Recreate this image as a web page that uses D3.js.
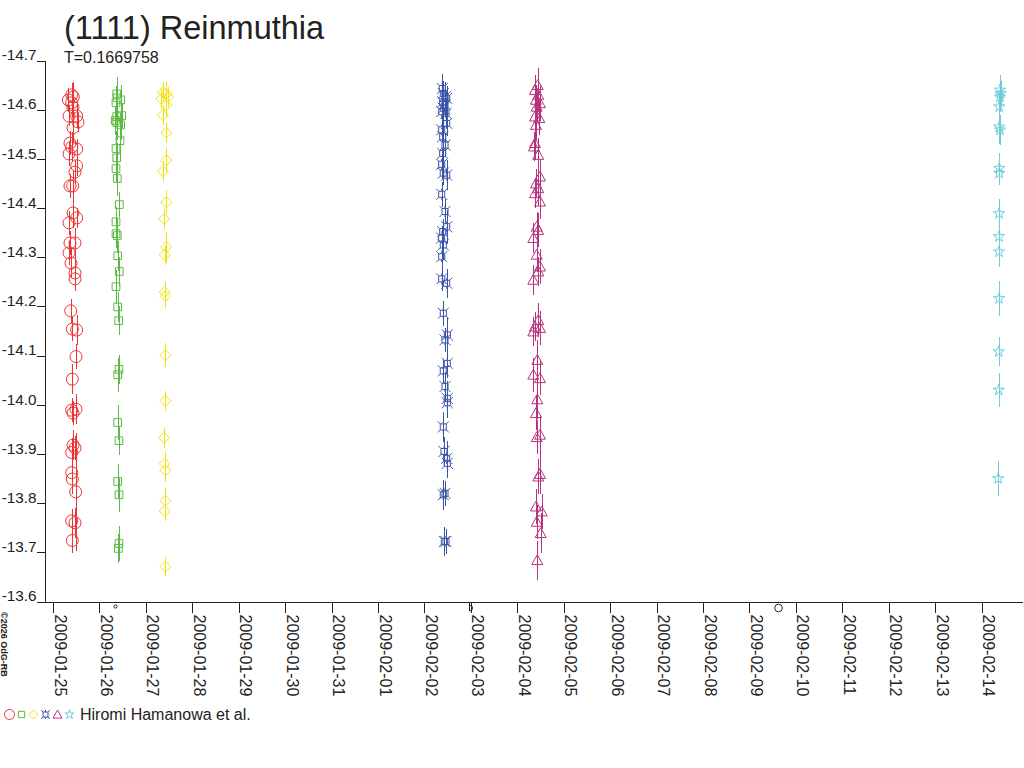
<!DOCTYPE html>
<html>
<head>
<meta charset="utf-8">
<script src="https://cdn.jsdelivr.net/npm/d3@7"></script>
<style>
  body { margin: 0; background: #fff; }
  svg { display: block; }
  text { font-family: "Liberation Sans", Arial, sans-serif; fill: #222; }
</style>
</head>
<body>
<svg id="chart" width="1024" height="768"></svg>
<script>
// chart texts
const titleText = '(1111) Reinmuthia';
const periodText = 'T=0.1669758';
const observerText = 'Hiromi Hamanowa et al.';
const creditText = '\u00a92026 OdG-RB';

// time axis: one tick per day, 2009-01-25 .. 2009-02-14 (UTC)
const firstDay = Date.UTC(2009, 0, 25);
const lastDay = Date.UTC(2009, 1, 14);
const DAY = 864e5;

// magnitude ticks (brighter at top)
const magTicks = [-14.7, -14.6, -14.5, -14.4, -14.3, -14.2, -14.1, -14.0, -13.9, -13.8, -13.7, -13.6];

// moon phases shown under the time axis
const moonPhases = [
  { when: Date.UTC(2009, 0, 26, 7, 55), phase: 'new' },
  { when: Date.UTC(2009, 1, 2, 23, 13), phase: 'first' },
  { when: Date.UTC(2009, 1, 9, 14, 49), phase: 'full' }
];

// observations: [days since 2009-01-25 0h UT, magnitude, error]
const night0125 = [
  [0.403,-14.630,0.025],[0.437,-14.626,0.030],[0.330,-14.620,0.025],[0.403,-14.614,0.030],
  [0.431,-14.605,0.025],[0.345,-14.587,0.020],[0.510,-14.587,0.025],[0.538,-14.575,0.020],
  [0.431,-14.563,0.030],[0.366,-14.532,0.025],[0.403,-14.524,0.030],[0.510,-14.520,0.020],
  [0.345,-14.510,0.025],[0.510,-14.486,0.020],[0.474,-14.473,0.025],[0.366,-14.445,0.025],
  [0.424,-14.445,0.030],[0.431,-14.390,0.030],[0.510,-14.380,0.020],[0.345,-14.370,0.025],
  [0.474,-14.329,0.030],[0.366,-14.329,0.025],[0.345,-14.309,0.025],[0.388,-14.288,0.030],
  [0.474,-14.268,0.030],[0.474,-14.256,0.025],[0.381,-14.191,0.025],[0.416,-14.154,0.025],
  [0.510,-14.152,0.030],[0.495,-14.098,0.025],[0.416,-14.052,0.030],[0.403,-13.989,0.025],
  [0.495,-13.991,0.030],[0.431,-13.983,0.025],[0.431,-13.918,0.030],[0.474,-13.912,0.025],
  [0.403,-13.903,0.030],[0.403,-13.862,0.025],[0.416,-13.849,0.030],[0.489,-13.823,0.120],
  [0.403,-13.764,0.025],[0.474,-13.760,0.030],[0.416,-13.724,0.025]
];
const night0126 = [
  [1.372,-14.632,0.035],[1.385,-14.624,0.030],[1.458,-14.620,0.030],[1.357,-14.614,0.035],
  [1.372,-14.586,0.030],[1.480,-14.588,0.025],[1.342,-14.578,0.030],[1.372,-14.574,0.035],
  [1.458,-14.569,0.030],[1.443,-14.537,0.030],[1.357,-14.521,0.035],[1.372,-14.502,0.030],
  [1.357,-14.480,0.030],[1.385,-14.460,0.035],[1.428,-14.407,0.025],[1.357,-14.372,0.030],
  [1.357,-14.348,0.030],[1.385,-14.344,0.035],[1.393,-14.303,0.030],[1.428,-14.271,0.030],
  [1.357,-14.240,0.035],[1.393,-14.199,0.030],[1.415,-14.171,0.030],[1.421,-14.072,0.030],
  [1.393,-14.061,0.035],[1.393,-13.964,0.035],[1.421,-13.927,0.030],[1.393,-13.844,0.035],
  [1.421,-13.817,0.035],[1.421,-13.718,0.035],[1.406,-13.708,0.030]
];
const night0127 = [
  [2.369,-14.636,0.020],[2.440,-14.632,0.025],[2.333,-14.622,0.020],[2.477,-14.626,0.020],
  [2.440,-14.609,0.025],[2.369,-14.589,0.020],[2.440,-14.553,0.020],[2.440,-14.497,0.025],
  [2.369,-14.475,0.020],[2.440,-14.412,0.025],[2.391,-14.378,0.020],[2.440,-14.321,0.030],
  [2.406,-14.305,0.020],[2.406,-14.229,0.020],[2.419,-14.221,0.025],[2.419,-14.101,0.025],
  [2.419,-14.008,0.020],[2.391,-13.933,0.020],[2.406,-13.880,0.025],[2.419,-13.867,0.025],
  [2.419,-13.805,0.025],[2.406,-13.784,0.020],[2.419,-13.671,0.020]
];
const night0202 = [
  [8.385,-14.643,0.030],[8.406,-14.633,0.025],[8.443,-14.626,0.030],[8.479,-14.623,0.025],
  [8.393,-14.616,0.030],[8.443,-14.610,0.025],[8.406,-14.603,0.030],[8.372,-14.596,0.025],
  [8.464,-14.593,0.030],[8.479,-14.572,0.025],[8.372,-14.559,0.025],[8.393,-14.545,0.030],
  [8.443,-14.528,0.025],[8.393,-14.511,0.025],[8.372,-14.489,0.030],[8.406,-14.471,0.025],
  [8.479,-14.467,0.030],[8.372,-14.428,0.025],[8.443,-14.393,0.025],[8.479,-14.362,0.035],
  [8.393,-14.352,0.025],[8.372,-14.339,0.025],[8.406,-14.325,0.030],[8.372,-14.301,0.030],
  [8.372,-14.256,0.025],[8.479,-14.247,0.030],[8.406,-14.186,0.025],[8.492,-14.142,0.035],
  [8.443,-14.132,0.025],[8.492,-14.084,0.030],[8.406,-14.069,0.025],[8.443,-14.037,0.030],
  [8.492,-14.013,0.035],[8.492,-14.004,0.030],[8.406,-13.955,0.030],[8.421,-13.905,0.030],
  [8.479,-13.891,0.035],[8.492,-13.881,0.030],[8.443,-13.820,0.025],[8.406,-13.817,0.030],
  [8.464,-13.722,0.025],[8.428,-13.722,0.030]
];
const night0204 = [
  [10.439,-14.650,0.035],[10.381,-14.640,0.030],[10.452,-14.630,0.035],[10.403,-14.620,0.030],
  [10.489,-14.613,0.035],[10.418,-14.606,0.030],[10.381,-14.586,0.035],[10.474,-14.583,0.035],
  [10.403,-14.569,0.030],[10.381,-14.532,0.035],[10.360,-14.525,0.030],[10.452,-14.508,0.035],
  [10.489,-14.464,0.035],[10.403,-14.450,0.030],[10.452,-14.440,0.035],[10.381,-14.430,0.030],
  [10.489,-14.413,0.035],[10.418,-14.362,0.030],[10.452,-14.355,0.035],[10.345,-14.339,0.030],
  [10.418,-14.305,0.035],[10.489,-14.281,0.035],[10.452,-14.271,0.030],[10.345,-14.254,0.030],
  [10.452,-14.172,0.035],[10.381,-14.159,0.030],[10.489,-14.156,0.035],[10.345,-14.149,0.030],
  [10.431,-14.091,0.040],[10.345,-14.061,0.035],[10.489,-14.054,0.035],[10.431,-14.011,0.040],
  [10.403,-13.983,0.035],[10.418,-13.934,0.035],[10.489,-13.939,0.040],[10.452,-13.854,0.035],
  [10.489,-13.859,0.040],[10.403,-13.793,0.035],[10.526,-13.783,0.035],[10.418,-13.762,0.035],
  [10.504,-13.739,0.040],[10.431,-13.684,0.040]
];
const night0214 = [
  [20.396,-14.640,0.030],[20.411,-14.633,0.025],[20.396,-14.626,0.030],[20.381,-14.606,0.030],
  [20.381,-14.565,0.035],[20.396,-14.559,0.030],[20.381,-14.481,0.030],[20.381,-14.471,0.025],
  [20.375,-14.389,0.030],[20.375,-14.342,0.030],[20.375,-14.311,0.030],[20.375,-14.216,0.035],
  [20.368,-14.108,0.030],[20.368,-14.030,0.035],[20.359,-13.850,0.035]
];

const nightColors = ['#ee3333', '#5cbb44', '#f2e310', '#3b55a6', '#b8337f', '#6ccdd9'];
const nightShapes = ['circle', 'square', 'diamond', 'cross', 'triangle', 'star'];
const nights = [night0125, night0126, night0127, night0202, night0204, night0214];

// --- symbol paths (outline marks) ---
function shapePath(kind, s) {
  // s = half size in px
  switch (kind) {
    case 'circle':
      return d3.symbol(d3.symbolCircle, Math.PI * s * s)();
    case 'square':
      return d3.symbol(d3.symbolSquare, (s * 1.4) * (s * 1.4))();
    case 'diamond':
      return `M0,${-s}L${s},0L0,${s}L${-s},0Z`;
    case 'triangle':
      return `M0,${-s}L${s},${s * 0.8}L${-s},${s * 0.8}Z`;
    case 'cross': {
      const a = s * 0.55;
      return `M${-a},${-a}H${a}V${a}H${-a}Z` +
        `M${-a},${-a}L${-s},${-s}M${a},${-a}L${s},${-s}` +
        `M${a},${a}L${s},${s}M${-a},${a}L${-s},${s}` +
        `M0,${-a}V${-s}M0,${a}V${s}`;
    }
    case 'star':
      return d3.symbol(d3.symbolStar, s * s * 1.3)();
  }
}

const svg = d3.select('#chart');
const margin = { left: 45, top: 60.5, bottom: 601.5, right: 1022 };

const x = d3.scaleUtc()
  .domain([new Date(firstDay), new Date(lastDay)])
  .range([53, 981.6]);
// widen the axis to the plot edges
x.domain([x.invert(37), x.invert(margin.right)]).range([37, margin.right]);

const y = d3.scaleLinear()
  .domain([-14.7, -13.6])
  .range([margin.top, margin.bottom]);

// title block
svg.append('text').attr('x', 64).attr('y', 39)
  .attr('font-size', 32.5).text(titleText);
svg.append('text').attr('x', 64).attr('y', 63)
  .attr('font-size', 16).text(periodText);

// y axis
const yAxis = d3.axisLeft(y)
  .tickValues(magTicks)
  .tickFormat(d3.format('.1f'))
  .tickSize(8)
  .tickSizeOuter(0);
const gy = svg.append('g')
  .attr('transform', `translate(${margin.left},0)`)
  .call(yAxis);
gy.selectAll('path, line').attr('stroke', '#222').attr('shape-rendering', 'crispEdges');
gy.selectAll('text')
  .attr('x', -8.5).attr('dy', '-0.05em')
  .attr('font-size', 15.3).attr('font-family', null).attr('fill', null)
  .text(d => d3.format('.1f')(d).replace('\u2212', '-'));

// x axis
const xAxis = d3.axisBottom(x)
  .ticks(d3.utcDay.every(1))
  .tickFormat(d3.utcFormat('%Y-%m-%d'))
  .tickSize(11)
  .tickSizeOuter(0);
const gx = svg.append('g')
  .attr('transform', `translate(0,${margin.bottom})`)
  .call(xAxis);
gx.selectAll('path, line').attr('stroke', '#222').attr('shape-rendering', 'crispEdges');
gx.selectAll('text')
  .attr('x', 0).attr('y', 0).attr('dy', null)
  .attr('text-anchor', 'start')
  .attr('transform', 'translate(1,13) rotate(90)')
  .attr('font-size', 16).attr('font-family', null).attr('fill', null);

// moon phase marks under the axis
const moonG = svg.append('g').attr('fill', 'none').attr('stroke', '#222');
moonPhases.forEach(m => {
  const mx = Math.round(x(new Date(m.when))) + 0.5;
  if (m.phase === 'new') {
    moonG.append('circle').attr('cx', mx).attr('cy', 606.5).attr('r', 1.6);
  } else if (m.phase === 'first') {
    moonG.append('path').attr('d', `M${mx},${602}V${611}M${mx},${605}a3,3 0 0 1 0,6`);
  } else {
    moonG.append('circle').attr('cx', mx).attr('cy', 608).attr('r', 3.8);
  }
});

// observations
nights.forEach((pts, i) => {
  const g = svg.append('g')
    .attr('stroke', nightColors[i])
    .attr('fill', 'none')
    .attr('stroke-width', 1);
  const when = d => new Date(firstDay + d[0] * DAY);
  g.selectAll('line.err').data(pts).join('line')
    .attr('class', 'err')
    .attr('shape-rendering', 'crispEdges')
    .attr('x1', d => Math.round(x(when(d))) + 0.5)
    .attr('x2', d => Math.round(x(when(d))) + 0.5)
    .attr('y1', d => y(d[1] - d[2]))
    .attr('y2', d => y(d[1] + d[2]));
  g.selectAll('path.mark').data(pts).join('path')
    .attr('class', 'mark')
    .attr('transform', d => `translate(${x(when(d))},${y(d[1])})`)
    .attr('d', shapePath(nightShapes[i], nightShapes[i] === 'circle' ? 6 : 5.5));
});

// legend
const legendG = svg.append('g').attr('fill', 'none');
nightShapes.forEach((s, i) => {
  legendG.append('path')
    .attr('transform', `translate(${9.5 + i * 12},714.5)`)
    .attr('stroke', nightColors[i])
    .attr('d', shapePath(s, s === 'circle' ? 5 : 4.5));
});
svg.append('text').attr('x', 80).attr('y', 720)
  .attr('font-size', 16).text(observerText);

// credit line
svg.append('text')
  .attr('transform', 'translate(1,612) rotate(90)')
  .attr('font-size', 9).attr('font-weight', 'bold')
  .text(creditText);
</script>
</body>
</html>
